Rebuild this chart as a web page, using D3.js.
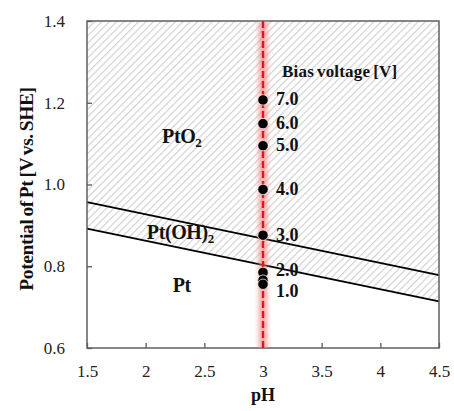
<!DOCTYPE html>
<html lang="en">
<head>
<meta charset="UTF-8">
<title>Pt Pourbaix</title>
<style>
  body { margin: 0; background: #fff; }
  svg text { font-family: "Liberation Serif", "Times New Roman", serif; }
</style>
</head>
<body>
<div id="my_dataviz"></div>
<script src="https://d3js.org/d3.v7.min.js"></script>
<script>
// data
var phTicks = [1.5, 2, 2.5, 3, 3.5, 4, 4.5];
var potTicks = [0.6, 0.8, 1.0, 1.2, 1.4];
var boundaryPH = [1.5, 4.5];
var upperLine = [0.957, 0.778];   // PtO2 / Pt(OH)2
var lowerLine = [0.892, 0.714];   // Pt(OH)2 / Pt
var biasPH = 3;
var biasLabels = ["7.0", "6.0", "5.0", "4.0", "3.0", "2.0", "1.0", "1.0"];
var biasPot = [1.207, 1.149, 1.095, 0.988, 0.876, 0.785, 0.766, 0.756];
var showLabel = [true, true, true, true, true, true, false, true];
var regionNames = ["PtO2", "Pt(OH)2", "Pt"];
var regionPH = [2.14, 2.01, 2.23];
var regionPot = [1.102, 0.866, 0.737];

var margin = {top: 21, right: 15, bottom: 63, left: 87},
    width = 454 - margin.left - margin.right,
    height = 411 - margin.top - margin.bottom;

var svg = d3.select("#my_dataviz")
  .append("svg")
    .attr("width", 454)
    .attr("height", 411)
  .append("g")
    .attr("transform", "translate(" + margin.left + "," + margin.top + ")");

var x = d3.scaleLinear().domain([1.5, 4.5]).range([0, width]);
var y = d3.scaleLinear().domain([0.6, 1.4]).range([height, 0]);

var defs = svg.append("defs");
var pat = defs.append("pattern")
  .attr("id", "hatch")
  .attr("patternUnits", "userSpaceOnUse")
  .attr("width", 5.2).attr("height", 5.2)
  .attr("patternTransform", "rotate(45)");
pat.append("line")
  .attr("x1", 0).attr("y1", 0).attr("x2", 0).attr("y2", 5.2)
  .attr("stroke", "#d2d2d2").attr("stroke-width", 2.4);

defs.append("clipPath").attr("id", "plotclip")
  .append("rect").attr("width", width).attr("height", height);

defs.append("filter").attr("id", "glow")
  .attr("filterUnits", "userSpaceOnUse")
  .attr("x", -50).attr("y", -50).attr("width", 500).attr("height", 500)
  .append("feGaussianBlur").attr("stdDeviation", 2.2);

// hatched area above lower boundary
var area = [
  [x(boundaryPH[0]), y(1.4)],
  [x(boundaryPH[1]), y(1.4)],
  [x(boundaryPH[1]), y(lowerLine[1])],
  [x(boundaryPH[0]), y(lowerLine[0])]
];
svg.append("path")
  .attr("d", d3.line()(area) + "Z")
  .attr("fill", "url(#hatch)");

// boundary lines
[upperLine, lowerLine].forEach(function(l) {
  svg.append("line")
    .attr("x1", x(boundaryPH[0])).attr("y1", y(l[0]))
    .attr("x2", x(boundaryPH[1])).attr("y2", y(l[1]))
    .attr("stroke", "#000").attr("stroke-width", 1.8);
});

// axes (inward ticks)
var xAxis = svg.append("g")
  .attr("transform", "translate(0," + height + ")")
  .call(d3.axisBottom(x).tickValues(phTicks).tickSize(-5).tickPadding(17)
        .tickFormat(function(d){ return d3.format("")(d); }));
var yAxis = svg.append("g")
  .call(d3.axisLeft(y).tickValues(potTicks).tickSize(-5).tickPadding(22)
        .tickFormat(d3.format(".1f")));
[xAxis, yAxis].forEach(function(a) {
  a.attr("font-family", "Liberation Serif, serif");
  a.select(".domain").remove();
  a.selectAll(".tick line").attr("stroke", "#595959").attr("stroke-width", 1.3);
  a.selectAll("text").attr("font-size", "17px").attr("fill", "#222");
});

// frame
svg.append("rect")
  .attr("width", width).attr("height", height)
  .attr("fill", "none").attr("stroke", "#5f5f5f").attr("stroke-width", 1.5);

// bias line at pH 3
var g = svg.append("g").attr("clip-path", "url(#plotclip)");
g.append("rect")
  .attr("x", x(biasPH) - 4.5).attr("width", 9)
  .attr("y", -10).attr("height", height + 20)
  .attr("fill", "#ff7a7a").attr("opacity", 0.6)
  .attr("filter", "url(#glow)");
g.append("line")
  .attr("x1", x(biasPH)).attr("x2", x(biasPH)).attr("y1", 0).attr("y2", height)
  .attr("stroke", "#e8141b").attr("stroke-width", 2.4)
  .attr("stroke-dasharray", "7,3");

// bias points
svg.selectAll("circle.bias")
  .data(biasPot)
  .enter()
  .append("circle")
    .attr("class", "bias")
    .attr("cx", x(biasPH))
    .attr("cy", function(d){ return y(d); })
    .attr("r", 5.2)
    .attr("fill", "#000")
    .attr("stroke", "#fff").attr("stroke-width", 0.7);

svg.selectAll("text.blab")
  .data(biasPot)
  .enter()
  .append("text")
    .attr("class", "blab")
    .attr("x", x(biasPH) + 13)
    .attr("y", function(d, i){ return y(d) + (i == 7 ? 13 : i == 5 ? 3.5 : 5.5); })
    .text(function(d, i){ return showLabel[i] ? biasLabels[i] : ""; })
    .attr("font-size", "18px").attr("font-weight", "bold").attr("fill", "#111");

svg.append("text")
  .attr("x", x(biasPH) + 19).attr("y", 55.5)
  .text("Bias voltage [V]")
  .attr("font-size", "17px").attr("font-weight", "bold")
  .attr("letter-spacing", "0.2px").attr("word-spacing", "-1.5px").attr("fill", "#111");

// region labels
regionNames.forEach(function(n, i) {
  var t = svg.append("text")
    .attr("x", x(regionPH[i]))
    .attr("y", y(regionPot[i]))
    .attr("font-size", "20px").attr("font-weight", "bold").attr("fill", "#111")
    .attr("letter-spacing", "-0.4px");
  var m = n.match(/^(.*?)(\d)$/);
  if (m) {
    t.append("tspan").text(m[1]);
    t.append("tspan").text(m[2]).attr("font-size", "13px").attr("dy", 4);
  } else {
    t.text(n);
  }
});

// axis titles
svg.append("text")
  .attr("x", width / 2).attr("y", height + 53)
  .attr("text-anchor", "middle")
  .attr("font-size", "18px").attr("font-weight", "bold").attr("fill", "#111")
  .text("pH");
svg.append("text")
  .attr("transform", "translate(-54,168) rotate(-90)")
  .attr("text-anchor", "middle")
  .attr("font-size", "19.5px").attr("font-weight", "bold").attr("fill", "#111")
  .attr("letter-spacing", "-0.4px").attr("word-spacing", "-1.5px")
  .text("Potential of Pt [V vs. SHE]");
</script>
</body>
</html>
